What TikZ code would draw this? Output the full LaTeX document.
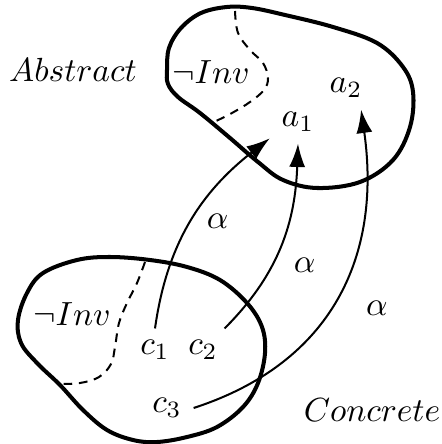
\documentclass[tikz,border=0pt]{standalone}
\usetikzlibrary{arrows.meta,positioning}
\begin{document}
\begin{tikzpicture}[x=0.0105cm, y=0.0105cm,
    blob/.style={line width=1.2pt, line join=round},
    region/.style={line width=0.6pt, dash pattern=on 2.6pt off 2pt},
    map/.style={-{Latex[length=7pt,width=4.8pt]}, line width=0.6pt}
  ]
    \useasboundingbox (0,0) rectangle (441,-444);
    % abstract domain
    \draw[blob] plot[smooth cycle, tension=0.6] coordinates {
      (167,-70) (169,-48) (181,-28) (201,-13) (227,-7) (252,-8) (285,-15)
      (333,-27) (377,-43) (403,-67) (413,-92) (410,-127) (393,-160)
      (360,-182) (317,-188) (283,-180) (258,-162) (230,-138) (200,-113)
      (178,-97) (168,-84)};
    \draw[region] plot[smooth, tension=0.6] coordinates {
      (235,-11) (238,-33) (250,-50) (263,-63) (268,-78) (264,-90)
      (250,-102) (232,-113) (212,-123)};
    % concrete domain
    \draw[blob] plot[smooth cycle, tension=0.6] coordinates {
      (18,-320) (27,-293) (43,-273) (77,-260) (110,-257) (150,-260)
      (187,-267) (220,-280) (247,-303) (262,-327) (265,-353) (258,-383)
      (243,-407) (217,-427) (187,-437) (157,-442) (133,-440) (107,-430)
      (83,-410) (60,-385) (37,-363) (21,-343)};
    \draw[region] plot[smooth, tension=0.6] coordinates {
      (145,-262) (137,-283) (127,-303) (119,-323) (115,-347) (111,-364)
      (99,-377) (80,-383) (58,-384)};
    % labels
    \node (abs) at (73,-70) {$Abstract$};
    \node (con) at (372,-410) {$Concrete$};
    \node (ninvA) at (211,-72) {$\neg Inv$};
    \node (ninvC) at (72,-314) {$\neg Inv$};
    \node (a1) at (298,-122) {$a_1$};
    \node (a2) at (346,-88) {$a_2$};
    \node (c1) at (155,-350) {$c_1$};
    \node (c2) at (203,-350) {$c_2$};
    \node (c3) at (167,-408) {$c_3$};
    % abstraction arrows
    \draw[map] (c1.north) to[out=82, in=218]
      node[pos=0.5, right=1pt] {$\alpha$} (a1.210);
    \draw[map] (c2.45) to[out=45, in=268]
      node[pos=0.38, right=3pt] {$\alpha$} (a1.south);
    \draw[map] (c3.east) to[out=18, in=278, looseness=1.1]
      node[pos=0.46, right=7pt] {$\alpha$} (a2.-55);
  \end{tikzpicture}
\end{document}
